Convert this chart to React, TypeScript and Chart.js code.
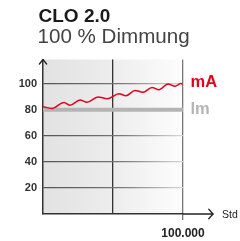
import React, { useEffect, useRef } from "react";
import { Chart, registerables } from "chart.js";

Chart.register(...registerables);

// Burning hours (Std) and measured values
const hours = [0, 6429, 15000, 19286, 26429, 31429, 39286, 45714, 54286, 59286, 65714, 71429, 77857, 82857, 89286, 94286, 98571, 100000];
const mAValues = [82.3, 81.0, 85.6, 83.4, 87.5, 85.7, 89.8, 88.4, 92.2, 90.7, 94.8, 93.4, 97.1, 95.3, 99.8, 98.0, 100, 99.6];
const lmHours = [0, 100000];
const lmValues = [80, 80];
const yTickLabels = [20, 40, 60, 80, 100];
const xTickLabels: Record<number, string> = { 100000: "100.000" };

const FONT = "'Liberation Sans', Arial, Helvetica, sans-serif";

const bgPlugin = {
  id: "bg",
  beforeDraw(chart: any) {
    const { ctx, chartArea: a } = chart;
    if (!a) return;
    const g = ctx.createLinearGradient(a.left, 0, a.right, 0);
    g.addColorStop(0, "#e2e2e2");
    g.addColorStop(0.5, "#ededed");
    g.addColorStop(1, "#fdfdfd");
    ctx.save();
    ctx.fillStyle = g;
    ctx.fillRect(a.left, a.top, a.right - a.left, a.bottom - a.top);
    ctx.restore();
  },
};

const arrowPlugin = {
  id: "arrows",
  afterDraw(chart: any) {
    const { ctx, chartArea: a } = chart;
    ctx.save();
    ctx.strokeStyle = "#222";
    ctx.lineWidth = 1.3;
    ctx.lineCap = "round";
    ctx.lineJoin = "round";
    ctx.beginPath();
    ctx.moveTo(a.left - 3.6, a.top + 4.5);
    ctx.lineTo(a.left, a.top);
    ctx.lineTo(a.left + 3.6, a.top + 4.5);
    ctx.stroke();
    const tip = a.right + 30;
    ctx.beginPath();
    ctx.moveTo(a.right, a.bottom);
    ctx.lineTo(tip, a.bottom);
    ctx.stroke();
    ctx.beginPath();
    ctx.moveTo(tip - 4.2, a.bottom - 4.8);
    ctx.lineTo(tip, a.bottom);
    ctx.lineTo(tip - 4.2, a.bottom + 4.8);
    ctx.stroke();
    ctx.restore();
  },
};

export default function App() {
  const ref = useRef<HTMLCanvasElement>(null);

  useEffect(() => {
    if (!ref.current) return;
    const chart = new Chart(ref.current, {
      type: "line",
      data: {
        datasets: [
          {
            label: "mA",
            data: hours.map((h, i) => ({ x: h, y: mAValues[i] })),
            borderColor: "#e3001b",
            borderWidth: 1.5,
            pointRadius: 0,
            cubicInterpolationMode: "monotone",
            fill: false,
          },
          {
            label: "lm",
            data: lmHours.map((h, i) => ({ x: h, y: lmValues[i] })),
            borderColor: "#b4b4b4",
            borderWidth: 4,
            pointRadius: 0,
            fill: false,
          },
        ],
      },
      options: {
        animation: false,
        responsive: false,
        maintainAspectRatio: false,
        layout: { padding: { top: 59.5, right: 57, bottom: 0, left: 0 } },
        plugins: { legend: { display: false }, tooltip: { enabled: false } },
        scales: {
          x: {
            type: "linear",
            min: 0,
            max: 100000,
            ticks: {
              stepSize: 50000,
              autoSkip: false,
              maxRotation: 0,
              padding: 6,
              color: "#222",
              font: { family: FONT, size: 12, weight: "bold" },
              callback: (v: any) => xTickLabels[v] ?? "",
            },
            grid: {
              lineWidth: 1.3,
              drawTicks: true,
              tickLength: 6,
              color: (c: any) =>
                c.tick && c.tick.value === 50000 ? "#333" : c.tick && c.tick.value === 100000 ? "#777" : "rgba(0,0,0,0)",
              tickColor: (c: any) => (c.tick && c.tick.value === 100000 ? "#777" : "rgba(0,0,0,0)"),
            },
            border: { color: "#333", width: 1.5 },
            afterFit: (s: any) => {
              s.height = 27;
            },
          },
          y: {
            min: 0,
            max: 118.5,
            ticks: {
              stepSize: 20,
              includeBounds: false,
              padding: 6,
              color: "#333",
              font: { family: FONT, size: 11, weight: "bold" },
              callback: (v: any) => (yTickLabels.includes(v) ? String(v) : ""),
            },
            grid: {
              drawTicks: false,
              lineWidth: 1.3,
              color: (c: any) => {
                const v = c.tick ? c.tick.value : 0;
                if (!yTickLabels.includes(v)) return "rgba(0,0,0,0)";
                const a = c.chart.chartArea;
                if (!a) return "#666";
                const g = c.chart.ctx.createLinearGradient(a.left, 0, a.right, 0);
                g.addColorStop(0, "#555");
                g.addColorStop(0.55, "#777");
                g.addColorStop(1, "#d8d8d8");
                return g;
              },
            },
            border: { color: "#333", width: 1.5 },
            afterFit: (s: any) => {
              s.width = 43;
            },
          },
        },
      },
      plugins: [bgPlugin, arrowPlugin],
    } as any);
    return () => chart.destroy();
  }, []);

  const base: React.CSSProperties = { position: "absolute", whiteSpace: "nowrap", lineHeight: 1, fontFamily: FONT };

  return (
    <div style={{ position: "absolute", left: 0, top: 0, width: 240, height: 241, background: "#fff", overflow: "hidden" }}>
      <canvas ref={ref} width={240} height={241} style={{ position: "absolute", left: 0, top: 0, width: 240, height: 241 }} />
      <div style={{ ...base, left: 38.5, top: 5.6, fontSize: 19, fontWeight: "bold", color: "#1a1a1a" }}>CLO 2.0</div>
      <div style={{ ...base, left: 37.5, top: 26, fontSize: 20.6, color: "#444" }}>100 % Dimmung</div>
      <div style={{ ...base, left: 190.5, top: 73.3, fontSize: 16.5, fontWeight: "bold", color: "#e3001b" }}>mA</div>
      <div style={{ ...base, left: 190.5, top: 100.3, fontSize: 16.5, fontWeight: "bold", color: "#b4b4b4" }}>lm</div>
      <div style={{ ...base, left: 222, top: 209, fontSize: 10.5, color: "#222" }}>Std</div>
    </div>
  );
}
